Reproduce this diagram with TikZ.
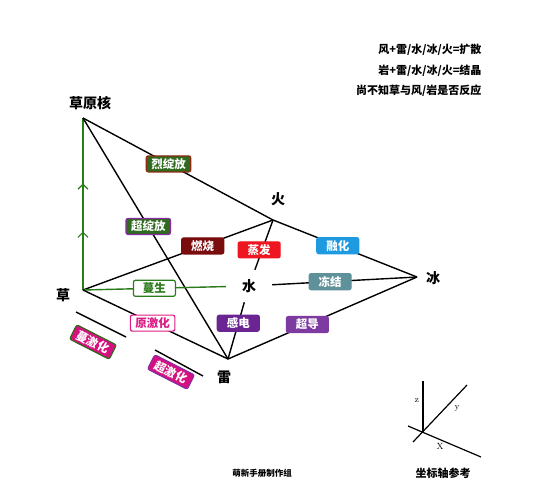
\documentclass[tikz,border=0pt]{standalone}
\usepackage{xcolor}
\usepackage{fontspec}
\newfontfamily\cjk{Noto Sans CJK SC}
\usetikzlibrary{arrows.meta, decorations.markings}
\definecolor{cgrass}{HTML}{2B7A1C}
\definecolor{cleaf}{HTML}{2F6A1E}
\definecolor{cbrown}{HTML}{8E2A12}
\definecolor{cviolet}{HTML}{8A2BA6}
\definecolor{cburn}{HTML}{7A0C0E}
\definecolor{cvapor}{HTML}{EE1620}
\definecolor{cmelt}{HTML}{1E9AE0}
\definecolor{cfreeze}{HTML}{5E9199}
\definecolor{cpink}{HTML}{DC1C84}
\definecolor{cshock}{HTML}{6B2592}
\definecolor{csuper}{HTML}{7D3BA2}
\definecolor{cmagenta}{HTML}{D6107E}

\begin{document}
\begin{tikzpicture}[x=1pt, y=-1pt,
    edge/.style={line width=1.4pt, draw=black},
    vlabel/.style={font=\cjk\bfseries\fontsize{14}{16}\selectfont},
    tag/.style={rectangle, rounded corners=2pt, line width=1.2pt, inner xsep=5pt, inner ysep=2pt,
        minimum width=42pt, minimum height=16pt, text=white, font=\cjk\bfseries\fontsize{11.5}{13}\selectfont},
    note/.style={anchor=east, font=\cjk\bfseries\fontsize{11}{13}\selectfont},
    growth/.style={line width=1.4pt, draw=cgrass, postaction={decorate},
        decoration={markings,
            mark=at position 0.34 with {\arrow{Straight Barb[length=5pt, width=10pt, line width=1.2pt]}},
            mark=at position 0.62 with {\arrow{Straight Barb[length=5pt, width=10pt, line width=1.2pt]}}}},
    axis/.style={line width=1.2pt, draw=black}
]
\useasboundingbox (0,0) rectangle (553,496);

% vertices
\coordinate (core) at (83,118);
\coordinate (fire) at (273,220);
\coordinate (ice) at (417,277);
\coordinate (grass) at (83,290);
\coordinate (elec) at (228,359);
\node[vlabel, minimum width=46pt, minimum height=32pt] (water) at (249,286) {水};

\node[vlabel] (corelbl) at (90,103) {草原核};
\node[vlabel] (firelbl) at (278,199) {火};
\node[vlabel] (icelbl) at (433,278) {冰};
\node[vlabel] (grasslbl) at (63,295) {草};
\node[vlabel] (eleclbl) at (224,377) {雷};

% reactions
\draw[growth] (grass) -- (core);
\draw[edge] (core) -- node[tag, pos=0.45, fill=cleaf, draw=cbrown] (bloom3) {烈绽放} (fire)
    -- node[tag, pos=0.45, fill=cmelt, draw=cmelt] (melt) {融化} (ice);
\draw[edge] (core) -- node[tag, pos=0.45, fill=cleaf, draw=cviolet] (bloom2) {超绽放} (elec);
\draw[edge] (grass) -- node[tag, pos=0.63, fill=cburn, draw=cburn] (burn) {燃烧} (fire);
\draw[edge] (fire) -- node[tag, pos=0.6, xshift=-3pt, fill=cvapor, draw=cvapor] (vapor) {蒸发} (water);
\draw[edge] (water) -- node[tag, pos=0.4, fill=cfreeze, draw=cfreeze] (freeze) {冻结} (ice);
\draw[line width=1.4pt, draw=cgrass] (grass) -- node[tag, pos=0.5, fill=white, draw=cgrass, text=cgrass] (vine) {蔓生} (water);
\draw[edge] (grass) -- node[tag, pos=0.48, fill=white, draw=cpink, text=cpink] (quicken) {原激化} (elec);
\draw[edge] (water) -- node[tag, pos=0.37, fill=cshock, draw=cshock] (shock) {感电} (elec);
\draw[edge] (elec) -- node[tag, pos=0.42, fill=csuper, draw=csuper] (superc) {超导} (ice);

% spread / aggravate
\draw[edge] (76,312) -- (126,337);
\draw[edge] (155,350) -- (203,376);
\node[tag, rotate=-27, fill=cmagenta, draw=cleaf] (spread) at (93,342) {蔓激化};
\node[tag, rotate=-27, fill=cmagenta, draw=cviolet] (aggr) at (171,372) {超激化};

% notes
\node[note] (note1) at (485,50) {风+雷/水/冰/火=扩散};
\node[note] (note2) at (485,71) {岩+雷/水/冰/火=结晶};
\node[note] (note3) at (485,91) {尚不知草与风/岩是否反应};
\node[font=\cjk\bfseries\fontsize{8.5}{10}\selectfont] (credit) at (262,473) {萌新手册制作组};

% axes
\coordinate (origin) at (423,432);
\draw[axis] (origin) -- (423,381);
\draw[axis] (413,442) -- (467,385);
\draw[axis] (408,426) -- (481,457);
\node[font=\fontsize{9}{10}\selectfont] (zlbl) at (417,401) {z};
\node[font=\fontsize{9}{10}\selectfont] (ylbl) at (457,408) {y};
\node[font=\fontsize{9}{10}\selectfont] (xlbl) at (440,446) {X};
\node[font=\cjk\bfseries\fontsize{11}{13}\selectfont] (axiscap) at (443,473) {坐标轴参考};
\end{tikzpicture}
\end{document}
